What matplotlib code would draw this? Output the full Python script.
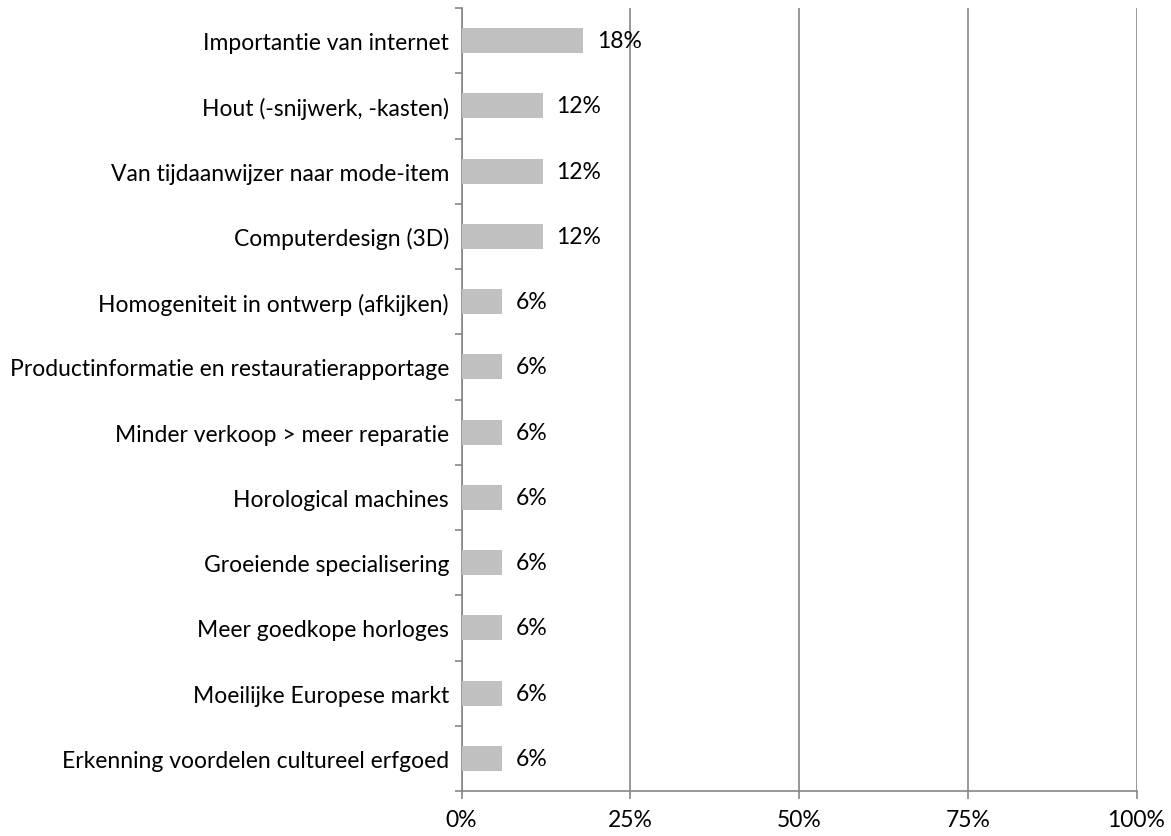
import matplotlib
matplotlib.use("Agg")
import matplotlib.pyplot as plt
import numpy as np

categories = [
    "Importantie van internet",
    "Hout (-snijwerk, -kasten)",
    "Van tijdaanwijzer naar mode-item",
    "Computerdesign (3D)",
    "Homogeniteit in ontwerp (afkijken)",
    "Productinformatie en restauratierapportage",
    "Minder verkoop > meer reparatie",
    "Horological machines",
    "Groeiende specialisering",
    "Meer goedkope horloges",
    "Moeilijke Europese markt",
    "Erkenning voordelen cultureel erfgoed",
]
values = [18, 12, 12, 12, 6, 6, 6, 6, 6, 6, 6, 6]
xticks = [0, 25, 50, 75, 100]
xtick_labels = ["0%", "25%", "50%", "75%", "100%"]

plt.rcParams['font.family'] = ['Lato', 'DejaVu Sans']
FS = 16.5

fig = plt.figure(figsize=(11.71, 8.37), dpi=100)
ax = fig.add_axes([461.5/1171, 1-792/837, (1136.5-461.5)/1171, (792-9)/837])

n = len(categories)
ypos = np.arange(n)[::-1]
ax.barh(ypos, values, height=0.38, color="#C0C0C0", zorder=3)
for y, v in zip(ypos, values):
    ax.annotate(f"{v}%", (v, y), xytext=(10, 0), textcoords="offset points",
                va="center", ha="left", fontsize=FS, color="black", zorder=4)

ax.set_xlim(0, 100)
ax.set_ylim(-0.5, n-0.5)
ax.set_xticks(xticks)
ax.set_xticklabels(xtick_labels, fontsize=FS)
ax.set_yticks(ypos)
ax.set_yticklabels(categories, fontsize=FS)
ax.set_yticks(np.arange(-0.5, n, 1.0), minor=True)
ax.tick_params(axis='y', which='major', length=0, pad=9)
ax.tick_params(axis='y', which='minor', length=5, color="#868686", width=1.2)
ax.tick_params(axis='x', which='major', length=6, color="#868686", width=1.2, pad=7)

ax.grid(axis='x', color="#868686", linewidth=1.2, zorder=1)
for s in ['top', 'right']:
    ax.spines[s].set_visible(False)
for s in ['left', 'bottom']:
    ax.spines[s].set_color("#868686")
    ax.spines[s].set_linewidth(1.2)

fig.savefig("out.png", dpi=100)
